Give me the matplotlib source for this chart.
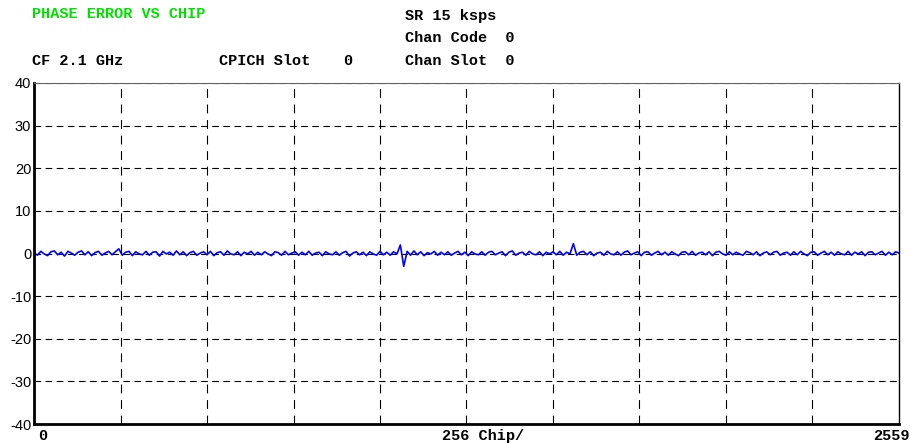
import numpy as np
import matplotlib
matplotlib.use("Agg")
import matplotlib.pyplot as plt

chip_first = 0
chip_last = 2559
y_ticks = [40, 30, 20, 10, 0, -10, -20, -30, -40]

# phase error in degrees, one value every ~10 chips
phase_err = [
    0.2, -0.4, 0.5, -0.1, -0.5, 0.4, 0.6, -0.3, 0.3, -0.6, 0.5, 0.1, -0.4, 0.3, 0.6, -0.3,
    0.4, -0.5, 0.2, 0.5, -0.4, 0.1, 0.5, -0.3, 0.4, 1.1, -0.4, 0.3, 0.5, -0.5, 0.4, -0.1,
    -0.3, 0.5, -0.4, 0.3, 0.4, -0.6, 0.5, -0.1, 0.3, -0.4, 0.6, -0.3, 0.4, -0.5, 0.2, 0.5,
    -0.4, 0.1, 0.4, -0.3, 0.5, -0.5, 0.2, 0.4, -0.4, 0.6, -0.1, -0.3, 0.4, -0.5, 0.3, -0.1,
    0.5, -0.4, 0.3, -0.3, 0.4, -0.1, -0.5, 0.4, 0.2, -0.4, 0.5, -0.3, 0.1, 0.4, -0.4, 0.3,
    -0.3, 0.5, -0.4, 0.1, 0.3, -0.5, 0.4, -0.1, -0.3, 0.4, -0.4, 0.2, 0.5, -0.6, 0.1, 0.4,
    -0.3, 0.3, -0.5, 0.4, -0.1, -0.4, 0.5, -0.3, 0.3, -0.4, 0.4, -0.1, 2.0, -3.0, 0.5, -0.4,
    0.6, -0.3, 0.4, -0.5, 0.2, -0.1, 0.5, -0.4, 0.3, -0.3, 0.4, -0.4, 0.1, 0.5, -0.3, 0.3,
    -0.5, 0.4, -0.1, -0.3, 0.4, -0.4, 0.3, 0.5, -0.3, 0.1, 0.4, -0.5, 0.3, 0.6, -0.4, 0.1,
    0.3, -0.4, 0.5, -0.1, -0.3, 0.4, -0.5, 0.3, -0.1, 0.4, -0.3, 0.5, -0.4, 0.3, -0.1, 2.3,
    -0.4, 0.3, 0.5, -0.3, 0.4, -0.5, 0.1, 0.3, -0.4, 0.5, -0.1, -0.3, 0.4, -0.4, 0.3, 0.6,
    -0.3, 0.1, 0.4, -0.5, 0.3, 0.4, -0.4, 0.1, 0.5, -0.3, 0.3, -0.4, 0.4, -0.1, -0.5, 0.3,
    0.4, -0.3, 0.5, -0.4, 0.1, 0.3, -0.3, 0.4, -0.5, 0.3, 0.5, -0.1, -0.4, 0.4, -0.3, 0.3,
    -0.1, -0.4, 0.5, 0.2, -0.3, 0.4, -0.5, 0.1, 0.4, -0.3, 0.3, 0.5, -0.4, 0.1, 0.3, -0.4,
    0.4, -0.3, 0.5, -0.1, -0.5, 0.3, 0.4, -0.4, 0.1, 0.5, -0.3, 0.3, -0.4, 0.4, -0.1, -0.3,
    0.5, -0.4, 0.3, -0.1, 0.4, -0.5, 0.3, 0.4, -0.3, 0.1, 0.5, -0.4, 0.3, -0.3, 0.4, 0.1,
]

title_txt = "PHASE ERROR VS CHIP"
hdr_left = "CF 2.1 GHz"
hdr_mid = "CPICH Slot"
hdr_mid_val = "0"
hdr_right = ["SR 15 ksps", "Chan Code  0", "Chan Slot  0"]
x_left_lbl = "0"
x_mid_lbl = "256 Chip/"
x_right_lbl = "2559"
# ============================================

W, H = 910, 443
fig = plt.figure(figsize=(W / 100, H / 100), dpi=100)
fig.patch.set_facecolor("white")

ax = fig.add_axes([34 / W, 1 - 424 / H, (899 - 34) / W, (424 - 83) / H])
chips = np.linspace(chip_first, chip_last, len(phase_err))
ax.plot(chips, phase_err, color="#0000ff", lw=1.2)

ax.set_xlim(chip_first, chip_last)
ax.set_ylim(-40, 40)
ax.set_yticks(y_ticks)
ax.set_yticklabels([str(v) for v in y_ticks], fontfamily="Liberation Sans", fontsize=10.5)
ax.tick_params(axis="y", length=0, pad=2)
ax.set_xticks([])

# dashed grid
for v in y_ticks[:-1]:
    ln = ax.axhline(v, color="black", lw=0.8, zorder=0)
    ln.set_dashes((6, 4))
for i in range(1, 10):
    ln = ax.axvline(chip_first + (chip_last - chip_first) * i / 10, color="black", lw=0.8, zorder=0)
    ln.set_dashes((8, 6))

ax.spines["left"].set_linewidth(2)
ax.spines["bottom"].set_linewidth(2)
ax.spines["top"].set_linewidth(0.8)
ax.spines["top"].set_color("#666666")
ax.spines["right"].set_linewidth(1)

mono = dict(fontfamily="Liberation Mono", fontweight="bold", fontsize=11, va="center")
fig.text(32 / W, 1 - 14 / H, title_txt, color="#00e000", **mono)
fig.text(405 / W, 1 - 16 / H, hdr_right[0], **mono)
fig.text(405 / W, 1 - 38 / H, hdr_right[1], **mono)
fig.text(405 / W, 1 - 61 / H, hdr_right[2], **mono)
fig.text(32 / W, 1 - 61 / H, hdr_left, **mono)
fig.text(219 / W, 1 - 61 / H, hdr_mid, **mono)
fig.text(343 / W, 1 - 61 / H, hdr_mid_val, **mono)

fig.text(38 / W, 1 - 436 / H, x_left_lbl, **mono)
fig.text(442 / W, 1 - 436 / H, x_mid_lbl, **mono)
fig.text(910 / W, 1 - 436 / H, x_right_lbl, ha="right", **mono)

fig.savefig("out.png", dpi=100)
